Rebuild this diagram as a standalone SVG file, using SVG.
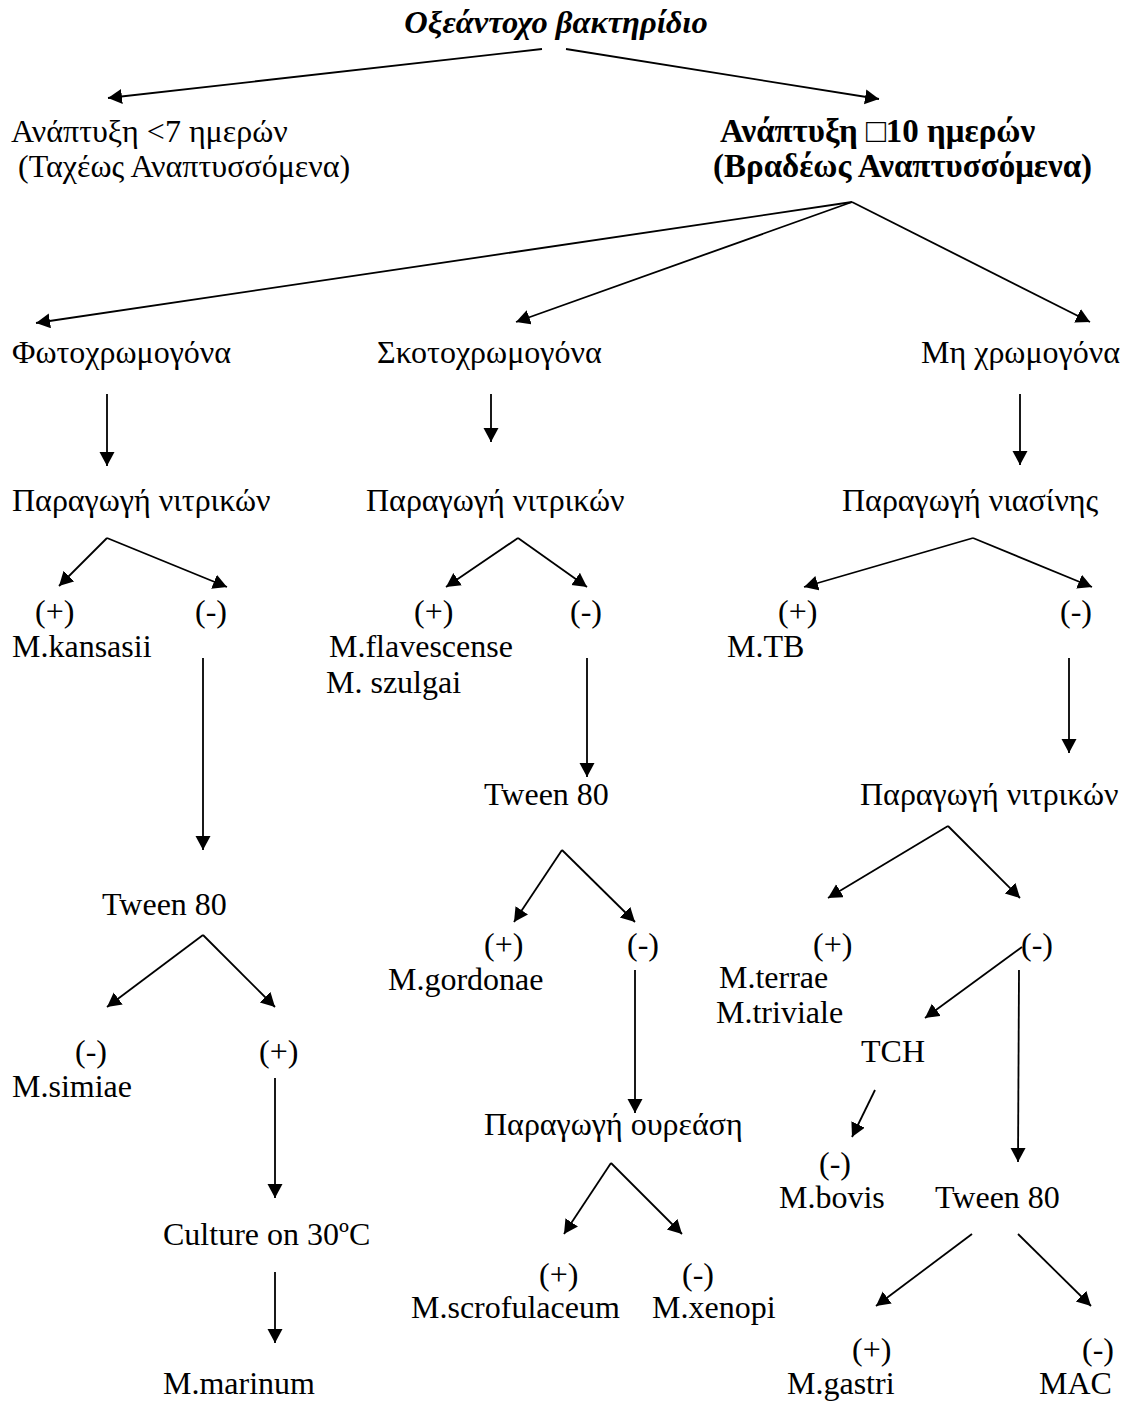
<svg xmlns="http://www.w3.org/2000/svg" width="1124" height="1401" viewBox="0 0 1124 1401">
<style>
text{font-family:"Liberation Serif","Times New Roman",serif;font-size:32px;fill:#000}
.b{font-weight:bold;font-size:33px}
.bi{font-weight:bold;font-style:italic;font-size:32.5px}
#connectors line{stroke:#000;stroke-width:1.8;fill:none;marker-end:url(#ah)}
</style>
<defs>
<marker id="ah" markerUnits="userSpaceOnUse" markerWidth="16" markerHeight="16" refX="14" refY="7.5" orient="auto">
<path d="M0,0 L14,7.5 L0,15 z" fill="#000"/>
</marker>
</defs>
<rect width="1124" height="1401" fill="#fff"/>
<g id="connectors">
<line x1="542" y1="49" x2="108" y2="98"/>
<line x1="566" y1="49" x2="879" y2="99"/>
<line x1="852" y1="202" x2="36" y2="323"/>
<line x1="852" y1="202" x2="516" y2="322"/>
<line x1="852" y1="202" x2="1090" y2="322"/>
<line x1="107" y1="394" x2="107" y2="466"/>
<line x1="107" y1="538" x2="59" y2="586"/>
<line x1="107" y1="538" x2="227" y2="587"/>
<line x1="203" y1="658" x2="203" y2="850"/>
<line x1="203" y1="935" x2="107" y2="1007"/>
<line x1="203" y1="935" x2="275" y2="1007"/>
<line x1="275" y1="1078" x2="275" y2="1198"/>
<line x1="275" y1="1272" x2="275" y2="1343"/>
<line x1="491" y1="394" x2="491" y2="442"/>
<line x1="518" y1="538" x2="446" y2="587"/>
<line x1="518" y1="538" x2="587" y2="587"/>
<line x1="587" y1="658" x2="587" y2="777"/>
<line x1="562" y1="850" x2="514" y2="922"/>
<line x1="562" y1="850" x2="635" y2="922"/>
<line x1="635" y1="970" x2="635" y2="1113"/>
<line x1="611" y1="1163" x2="564" y2="1234"/>
<line x1="611" y1="1163" x2="682" y2="1234"/>
<line x1="1020" y1="394" x2="1020" y2="465"/>
<line x1="973" y1="538" x2="804" y2="587"/>
<line x1="973" y1="538" x2="1092" y2="587"/>
<line x1="1069" y1="658" x2="1069" y2="753"/>
<line x1="948" y1="826" x2="828" y2="898"/>
<line x1="948" y1="826" x2="1020" y2="898"/>
<line x1="1022" y1="947" x2="925" y2="1018"/>
<line x1="1019" y1="970" x2="1018" y2="1162"/>
<line x1="875" y1="1090" x2="852" y2="1137"/>
<line x1="972" y1="1234" x2="876" y2="1306"/>
<line x1="1018" y1="1234" x2="1091" y2="1306"/>
</g>
<g id="n-root"><text class="bi" x="556" y="33" text-anchor="middle">Οξεάντοχο βακτηρίδιο</text></g>
<g id="n-fast"><text x="11" y="142">Ανάπτυξη &lt;7 ημερών</text><text x="18" y="177">(Ταχέως Αναπτυσσόμενα)</text></g>
<g id="n-slow"><text class="b" x="720" y="142">Ανάπτυξη □10 ημερών</text><text class="b" x="713" y="177">(Βραδέως Αναπτυσσόμενα)</text></g>
<g id="n-photo"><text x="12" y="363">Φωτοχρωμογόνα</text></g>
<g id="n-scoto"><text x="377" y="363">Σκοτοχρωμογόνα</text></g>
<g id="n-nonchromo"><text x="921" y="363">Μη χρωμογόνα</text></g>
<g id="n-nitr1"><text x="12" y="511">Παραγωγή νιτρικών</text></g>
<g id="n-nitr2"><text x="366" y="511">Παραγωγή νιτρικών</text></g>
<g id="n-niacin"><text x="842" y="511">Παραγωγή νιασίνης</text></g>
<g id="n-kansasii"><text x="35" y="622">(+)</text><text x="12" y="657">M.kansasii</text></g>
<g id="n-nitr1-neg"><text x="195" y="622">(-)</text></g>
<g id="n-flav"><text x="414" y="622">(+)</text><text x="329" y="657">M.flavescense</text><text x="326" y="693">M. szulgai</text></g>
<g id="n-nitr2-neg"><text x="570" y="622">(-)</text></g>
<g id="n-tb"><text x="778" y="622">(+)</text><text x="727" y="657">M.TB</text></g>
<g id="n-niacin-neg"><text x="1060" y="622">(-)</text></g>
<g id="n-tween2"><text x="484" y="805">Tween 80</text></g>
<g id="n-nitr3"><text x="860" y="805">Παραγωγή νιτρικών</text></g>
<g id="n-tween1"><text x="102" y="915">Tween 80</text></g>
<g id="n-gordonae"><text x="484" y="955">(+)</text><text x="388" y="990">M.gordonae</text></g>
<g id="n-tween2-neg"><text x="627" y="955">(-)</text></g>
<g id="n-terrae"><text x="813" y="955">(+)</text><text x="719" y="988">M.terrae</text><text x="716" y="1023">M.triviale</text></g>
<g id="n-nitr3-neg"><text x="1021" y="955">(-)</text></g>
<g id="n-simiae"><text x="75" y="1062">(-)</text><text x="12" y="1097">M.simiae</text></g>
<g id="n-tween1-pos"><text x="259" y="1062">(+)</text></g>
<g id="n-tch"><text x="861" y="1062">TCH</text></g>
<g id="n-urease"><text x="484" y="1135">Παραγωγή ουρεάση</text></g>
<g id="n-bovis"><text x="819" y="1174">(-)</text><text x="779" y="1208">M.bovis</text></g>
<g id="n-tween3"><text x="935" y="1208">Tween 80</text></g>
<g id="n-culture"><text x="163" y="1245">Culture on 30ºC</text></g>
<g id="n-scrof"><text x="539" y="1285">(+)</text><text x="411" y="1318">M.scrofulaceum</text></g>
<g id="n-xenopi"><text x="682" y="1285">(-)</text><text x="652" y="1318">M.xenopi</text></g>
<g id="n-marinum"><text x="163" y="1394">M.marinum</text></g>
<g id="n-gastri"><text x="852" y="1360">(+)</text><text x="787" y="1394">M.gastri</text></g>
<g id="n-mac"><text x="1082" y="1360">(-)</text><text x="1039" y="1394">MAC</text></g>
</svg>
